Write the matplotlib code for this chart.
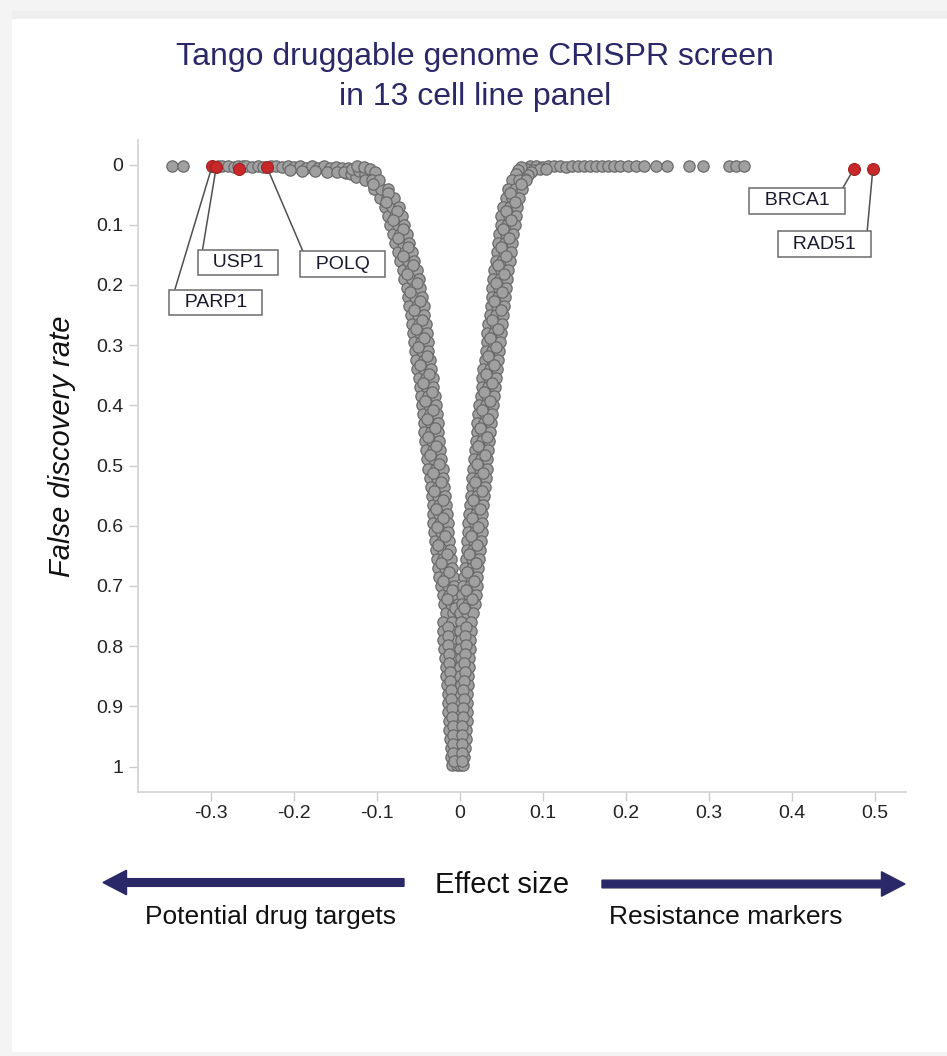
import matplotlib
matplotlib.use('Agg')
import matplotlib.pyplot as plt
from matplotlib.patches import Rectangle, FancyArrow

plt.rcParams['font.family'] = ['Liberation Sans', 'DejaVu Sans']

# ---------------- data (effect size, false discovery rate) ----------------
# left (negative effect) branch: FDR levels and point positions across the band
left_fdr = [0.025, 0.040, 0.055, 0.070, 0.085, 0.100, 0.115, 0.130, 0.145, 0.160,
            0.175, 0.190, 0.205, 0.220, 0.235, 0.250, 0.265, 0.280, 0.295, 0.310,
            0.325, 0.340, 0.355, 0.370, 0.385, 0.400, 0.415, 0.430, 0.445, 0.460,
            0.475, 0.490, 0.505, 0.520, 0.535, 0.550, 0.565, 0.580, 0.595, 0.610,
            0.625, 0.640, 0.655, 0.670, 0.685, 0.700, 0.715, 0.730, 0.745]
left_outer = [-0.115, -0.104, -0.097, -0.091, -0.087, -0.084, -0.081, -0.078, -0.075, -0.072,
              -0.069, -0.067, -0.064, -0.063, -0.061, -0.059, -0.058, -0.057, -0.055, -0.054,
              -0.053, -0.052, -0.050, -0.048, -0.047, -0.046, -0.045, -0.043, -0.043, -0.042,
              -0.041, -0.040, -0.038, -0.036, -0.035, -0.034, -0.033, -0.033, -0.032, -0.031,
              -0.030, -0.029, -0.028, -0.026, -0.025, -0.023, -0.021, -0.019, -0.017]
left_mid = [-0.106, -0.095, -0.088, -0.082, -0.078, -0.075, -0.072, -0.069, -0.066, -0.063,
            -0.060, -0.058, -0.056, -0.054, -0.052, -0.051, -0.049, -0.048, -0.047, -0.046,
            -0.044, -0.043, -0.041, -0.040, -0.038, -0.037, -0.036, -0.035, -0.035, -0.034,
            -0.033, -0.031, -0.029, -0.028, -0.027, -0.026, -0.025, -0.025, -0.024, -0.023,
            -0.022, -0.021, -0.020, -0.018, -0.017, -0.015, -0.013, -0.011, -0.009]
left_inner = [-0.098, -0.087, -0.080, -0.074, -0.070, -0.067, -0.064, -0.061, -0.058, -0.055,
              -0.052, -0.050, -0.048, -0.046, -0.044, -0.043, -0.041, -0.040, -0.039, -0.038,
              -0.036, -0.035, -0.033, -0.032, -0.030, -0.029, -0.028, -0.027, -0.026, -0.025,
              -0.024, -0.023, -0.021, -0.020, -0.019, -0.018, -0.017, -0.016, -0.015, -0.014,
              -0.013, -0.012, -0.011, -0.010, -0.009, -0.007, -0.005, -0.003, -0.001]
# further genes sitting between those rows
left_extra_fdr = [0.0325, 0.0475, 0.0625, 0.0775, 0.0925, 0.1075, 0.1225, 0.1375, 0.1525,
                  0.1675, 0.1825, 0.1975, 0.2125, 0.2275, 0.2425, 0.2575, 0.2725, 0.2875,
                  0.3025, 0.3175, 0.3325, 0.3475, 0.3625, 0.3775, 0.3925, 0.4075, 0.4225,
                  0.4375, 0.4525, 0.4675, 0.4825, 0.4975, 0.5125, 0.5275, 0.5425, 0.5575,
                  0.5725, 0.5875, 0.6025, 0.6175, 0.6325, 0.6475, 0.6625, 0.6775, 0.6925,
                  0.7075, 0.7225, 0.7375]
left_extra = [-0.105, -0.087, -0.089, -0.076, -0.081, -0.069, -0.075, -0.063, -0.069,
              -0.057, -0.064, -0.052, -0.060, -0.048, -0.056, -0.046, -0.053, -0.043,
              -0.051, -0.040, -0.048, -0.037, -0.045, -0.034, -0.042, -0.032, -0.040,
              -0.030, -0.039, -0.029, -0.036, -0.025, -0.033, -0.023, -0.031, -0.021,
              -0.029, -0.020, -0.028, -0.018, -0.026, -0.016, -0.023, -0.013, -0.020,
              -0.010, -0.016, -0.006]

# right (positive effect) branch
right_fdr = left_fdr
right_inner = [0.063, 0.058, 0.055, 0.052, 0.050, 0.049, 0.047, 0.046, 0.045, 0.043,
               0.041, 0.040, 0.039, 0.038, 0.037, 0.036, 0.034, 0.033, 0.032, 0.031,
               0.030, 0.028, 0.027, 0.026, 0.025, 0.023, 0.022, 0.021, 0.020, 0.019,
               0.018, 0.017, 0.016, 0.015, 0.014, 0.013, 0.012, 0.011, 0.010, 0.010,
               0.009, 0.008, 0.007, 0.006, 0.005, 0.004, 0.003, 0.002, 0.000]
right_mid = [0.071, 0.066, 0.063, 0.060, 0.059, 0.057, 0.056, 0.054, 0.053, 0.051,
             0.049, 0.048, 0.047, 0.046, 0.045, 0.044, 0.042, 0.041, 0.040, 0.039,
             0.038, 0.036, 0.035, 0.034, 0.033, 0.031, 0.030, 0.029, 0.028, 0.027,
             0.026, 0.025, 0.024, 0.023, 0.022, 0.021, 0.020, 0.019, 0.018, 0.018,
             0.017, 0.016, 0.015, 0.014, 0.013, 0.012, 0.011, 0.010, 0.008]
right_outer = [0.080, 0.075, 0.071, 0.069, 0.067, 0.066, 0.064, 0.063, 0.061, 0.060,
               0.058, 0.057, 0.055, 0.054, 0.053, 0.052, 0.051, 0.050, 0.048, 0.047,
               0.046, 0.045, 0.043, 0.042, 0.041, 0.040, 0.038, 0.037, 0.036, 0.035,
               0.034, 0.033, 0.032, 0.031, 0.030, 0.029, 0.028, 0.027, 0.026, 0.026,
               0.025, 0.024, 0.023, 0.022, 0.021, 0.020, 0.019, 0.018, 0.016]
right_extra_fdr = left_extra_fdr
right_extra = [0.073, 0.060, 0.066, 0.055, 0.062, 0.052, 0.059, 0.049, 0.056,
               0.046, 0.053, 0.043, 0.051, 0.041, 0.049, 0.039, 0.046, 0.036,
               0.044, 0.034, 0.041, 0.031, 0.039, 0.029, 0.036, 0.026, 0.034,
               0.024, 0.032, 0.022, 0.030, 0.020, 0.028, 0.018, 0.026, 0.016,
               0.024, 0.014, 0.022, 0.013, 0.021, 0.011, 0.019, 0.009, 0.017,
               0.007, 0.015, 0.005]

# merged stem near FDR = 1
stem_fdr = [0.760, 0.775, 0.790, 0.805, 0.820, 0.835, 0.850, 0.865, 0.880,
            0.895, 0.910, 0.925, 0.940, 0.955, 0.970, 0.985, 0.998]
stem_a = [-0.021, -0.020, -0.020, -0.019, -0.018, -0.017, -0.017, -0.016, -0.015,
          -0.015, -0.014, -0.013, -0.013, -0.012, -0.011, -0.011, -0.010]
stem_b = [-0.010, -0.010, -0.010, -0.009, -0.009, -0.008, -0.008, -0.007, -0.007,
          -0.007, -0.006, -0.006, -0.005, -0.005, -0.005, -0.004, -0.004]
stem_c = [0.001, 0.000, 0.001, 0.000, 0.001, 0.000, 0.000, 0.001, 0.000,
          0.000, 0.001, 0.000, 0.000, 0.001, 0.000, 0.001, 0.000]
stem_d = [0.013, 0.013, 0.012, 0.012, 0.011, 0.011, 0.010, 0.010, 0.009,
          0.009, 0.008, 0.008, 0.007, 0.007, 0.006, 0.005, 0.004]
stem_extra_fdr = [0.7675, 0.7825, 0.7975, 0.8125, 0.8275, 0.8425, 0.8575, 0.8725,
                  0.8875, 0.9025, 0.9175, 0.9325, 0.9475, 0.9625, 0.9775, 0.9915]
stem_e = [-0.015, -0.014, -0.015, -0.013, -0.013, -0.012, -0.012, -0.011,
          -0.011, -0.010, -0.010, -0.009, -0.009, -0.008, -0.008, -0.007]
stem_f = [0.007, 0.006, 0.007, 0.006, 0.005, 0.006, 0.005, 0.004,
          0.005, 0.004, 0.004, 0.003, 0.003, 0.003, 0.002, 0.002]

# genes with FDR near 0 (flat top rows and the bends into the branches)
top_left_effect = [-0.347, -0.334, -0.292, -0.287, -0.280, -0.273, -0.268, -0.262, -0.258,
                   -0.251, -0.244, -0.238, -0.228, -0.222, -0.215, -0.207, -0.200, -0.193,
                   -0.186, -0.178, -0.171, -0.164, -0.157, -0.150, -0.142, -0.135,
                   -0.205, -0.190, -0.175, -0.160, -0.148, -0.138,
                   -0.140, -0.132, -0.125, -0.130, -0.122, -0.115,
                   -0.124, -0.116, -0.109, -0.103]
top_left_fdr = [0.002, 0.002, 0.002, 0.003, 0.002, 0.004, 0.003, 0.002, 0.003,
                0.004, 0.002, 0.004, 0.003, 0.003, 0.004, 0.002, 0.004, 0.003,
                0.005, 0.003, 0.005, 0.003, 0.006, 0.004, 0.006, 0.005,
                0.009, 0.010, 0.011, 0.012, 0.013, 0.014,
                0.012, 0.016, 0.020, 0.007, 0.010, 0.015,
                0.002, 0.004, 0.008, 0.013]
top_right_effect = [0.084, 0.092, 0.099, 0.106, 0.113, 0.121, 0.128, 0.135, 0.142, 0.149,
                    0.157, 0.164, 0.171, 0.178, 0.186, 0.193, 0.203, 0.212, 0.222,
                    0.080, 0.088, 0.096, 0.104,
                    0.086, 0.082, 0.078, 0.074, 0.070, 0.067,
                    0.236, 0.250, 0.276, 0.293, 0.324, 0.333, 0.343]
top_right_fdr = [0.003, 0.002, 0.004, 0.002, 0.003, 0.002, 0.004, 0.002, 0.003, 0.002,
                 0.003, 0.002, 0.003, 0.002, 0.003, 0.002, 0.003, 0.002, 0.003,
                 0.008, 0.009, 0.008, 0.007,
                 0.013, 0.018, 0.024, 0.004, 0.009, 0.015,
                 0.002, 0.003, 0.002, 0.003, 0.002, 0.003, 0.002]

# highlighted genes
hit_genes = ['PARP1', 'USP1', '', 'POLQ', 'BRCA1', 'RAD51']
hit_effect = [-0.299, -0.294, -0.267, -0.233, 0.475, 0.498]
hit_fdr = [0.0025, 0.004, 0.0075, 0.004, 0.0075, 0.0075]

x_ticks = [-0.3, -0.2, -0.1, 0, 0.1, 0.2, 0.3, 0.4, 0.5]
x_tick_labels = ['-0.3', '-0.2', '-0.1', '0', '0.1', '0.2', '0.3', '0.4', '0.5']
y_ticks = [0, 0.1, 0.2, 0.3, 0.4, 0.5, 0.6, 0.7, 0.8, 0.9, 1]
y_tick_labels = ['0', '0.1', '0.2', '0.3', '0.4', '0.5', '0.6', '0.7', '0.8', '0.9', '1']

title_lines = ['Tango druggable genome CRISPR screen', 'in 13 cell line panel']

# ---------------- layout ----------------
W, H = 947, 1056
NAVY = '#2b2868'
fig = plt.figure(figsize=(W / 100, H / 100), dpi=100, facecolor='#f4f4f4')


def px(x, y):
    return (x / 100, (H - y) / 100)


fig.patches.append(Rectangle(px(12, 1052), (W - 12) / 100, (1052 - 19) / 100,
                             transform=fig.dpi_scale_trans, facecolor='white',
                             edgecolor='none', zorder=-5))
fig.patches.append(Rectangle(px(12, 19), (W - 12) / 100, 0.08,
                             transform=fig.dpi_scale_trans, facecolor='#eeeeee',
                             edgecolor='none', zorder=-5))

ax_l, ax_r, ax_t, ax_b = 137.7, 906, 140, 792.3
ax = fig.add_axes([ax_l / W, (H - ax_b) / H, (ax_r - ax_l) / W, (ax_b - ax_t) / H])
ax.set_facecolor('none')
ax.set_zorder(2)

gray = dict(s=66, facecolor='#a0a0a0', edgecolor='#6a6a6a', linewidths=0.9, zorder=2)
ax.scatter(top_left_effect, top_left_fdr, **gray)
ax.scatter(top_right_effect, top_right_fdr, **gray)
for col in (left_outer, left_mid, left_inner):
    ax.scatter(col, left_fdr, **gray)
ax.scatter(left_extra, left_extra_fdr, **gray)
for col in (right_inner, right_mid, right_outer):
    ax.scatter(col, right_fdr, **gray)
ax.scatter(right_extra, right_extra_fdr, **gray)
for col in (stem_a, stem_b, stem_c, stem_d):
    ax.scatter(col, stem_fdr, **gray)
for col in (stem_e, stem_f):
    ax.scatter(col, stem_extra_fdr, **gray)

ax.scatter(hit_effect, hit_fdr, s=74, facecolor='#c8282a', edgecolor='#a01e20',
           linewidths=0.75, zorder=4)

# labels for highlighted genes (box centres in data units, corner the leader attaches to)
label_pos = {'PARP1': (-0.2949, 0.2292, (0, 1)),
             'USP1': (-0.2678, 0.1628, (0, 1)),
             'POLQ': (-0.1417, 0.1653, (0, 1)),
             'BRCA1': (0.4065, 0.0606, (1, 1)),
             'RAD51': (0.4397, 0.1321, (1, 1))}
for g, xv, yv in zip(hit_genes, hit_effect, hit_fdr):
    if not g:
        continue
    tx, ty, rp = label_pos[g]
    ax.annotate('  ' + g + '  ', xy=(xv, yv), xytext=(tx, ty), ha='center', va='center',
                fontsize=14, color='#1a1a2e', zorder=5,
                bbox=dict(boxstyle='square,pad=0.22', facecolor='white', edgecolor='#6b6b6b',
                          linewidth=1.1),
                arrowprops=dict(arrowstyle='-', color='#505050', lw=1.1, relpos=rp,
                                shrinkA=0, shrinkB=4))

ax.set_xlim((ax_l - 460) / 829, (ax_r - 460) / 829)
ax.set_ylim((ax_b - 164.5) / 602, (ax_t - 164.5) / 602)
ax.set_xticks(x_ticks)
ax.set_xticklabels(x_tick_labels)
ax.set_yticks(y_ticks)
ax.set_yticklabels(y_tick_labels)
for s in ('top', 'right'):
    ax.spines[s].set_visible(False)
for s in ('left', 'bottom'):
    ax.spines[s].set_color('#d2d2d2')
    ax.spines[s].set_linewidth(1.2)
ax.tick_params(axis='both', length=6.5, width=1.0, color='#cccccc', labelsize=14,
               labelcolor='#222222')
ax.tick_params(axis='y', pad=4)
ax.tick_params(axis='x', pad=3)

fig.text(62 / W, 1 - 446 / H, 'False discovery rate', rotation=90, style='italic',
         fontsize=21, ha='center', va='center', color='#111111')

fig.text(475 / W, 1 - 57 / H, title_lines[0], ha='center', va='center', fontsize=23,
         color=NAVY)
fig.text(475 / W, 1 - 97 / H, title_lines[1], ha='center', va='center', fontsize=23,
         color=NAVY)

# effect-size direction arrows
fig.patches.append(FancyArrow(*px(404, 882.5), dx=-(404 - 103) / 100, dy=0, width=0.077,
                              head_width=0.245, head_length=0.235, length_includes_head=True,
                              color=NAVY, transform=fig.dpi_scale_trans, zorder=3))
fig.patches.append(FancyArrow(*px(602, 884), dx=(905 - 602) / 100, dy=0, width=0.077,
                              head_width=0.245, head_length=0.235, length_includes_head=True,
                              color=NAVY, transform=fig.dpi_scale_trans, zorder=3))

fig.text(502 / W, 1 - 885 / H, 'Effect size', ha='center', va='center', fontsize=21,
         color='#111111')
fig.text(270 / W, 1 - 917 / H, 'Potential drug targets', ha='center', va='center',
         fontsize=19, color='#111111')
fig.text(726 / W, 1 - 917 / H, 'Resistance markers', ha='center', va='center',
         fontsize=19, color='#111111')

fig.savefig('out.png', dpi=100, facecolor=fig.get_facecolor())
